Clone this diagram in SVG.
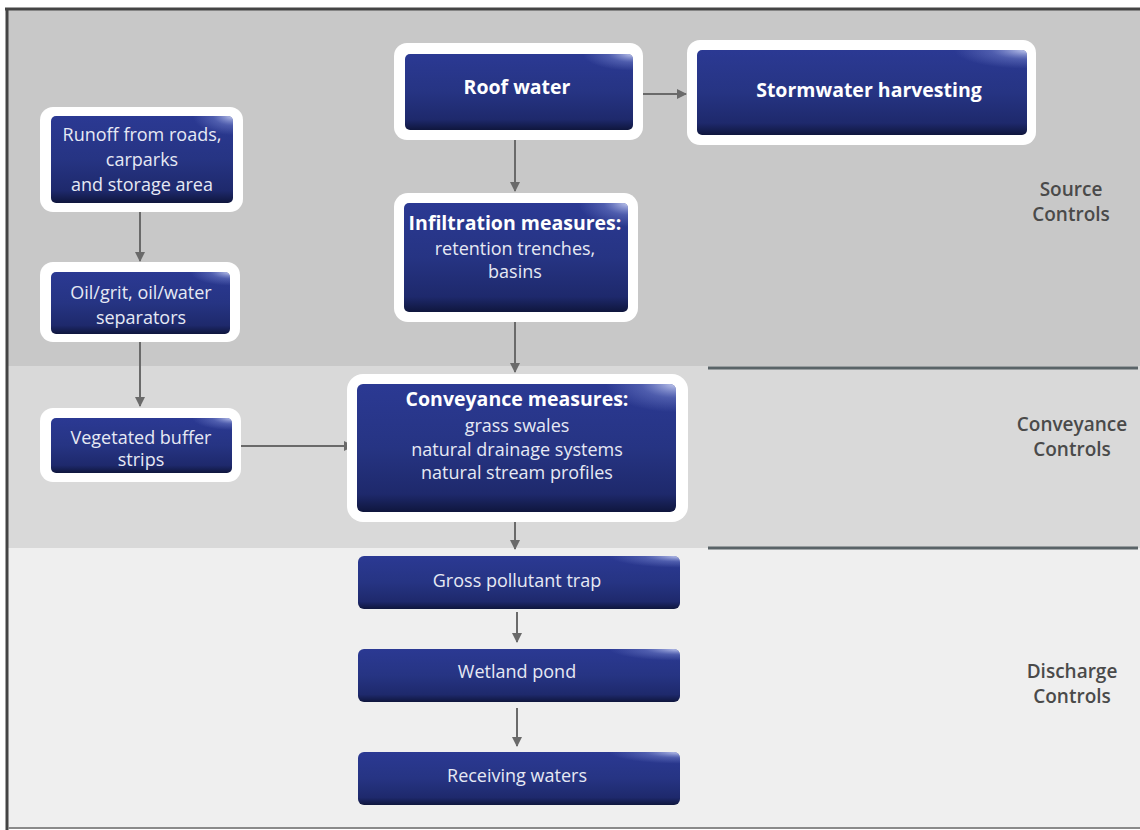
<svg xmlns="http://www.w3.org/2000/svg" width="1140" height="830" viewBox="0 0 1140 830">
<defs>
<linearGradient id="blue" x1="0" y1="0" x2="0" y2="1">
<stop offset="0" stop-color="#2b3993"/>
<stop offset="0.5" stop-color="#263483"/>
<stop offset="0.86" stop-color="#1e296c"/>
<stop offset="1" stop-color="#0f163d"/>
</linearGradient>
<radialGradient id="shine" cx="1" cy="0" r="0.22">
<stop offset="0" stop-color="#dfe5ff" stop-opacity="0.85"/>
<stop offset="0.5" stop-color="#8f9ee0" stop-opacity="0.35"/>
<stop offset="1" stop-color="#8f9ee0" stop-opacity="0"/>
</radialGradient>
<marker id="ah" viewBox="0 0 10 10" refX="9" refY="5" markerWidth="10" markerHeight="10" markerUnits="userSpaceOnUse" orient="auto">
<path d="M0,0 L10,5 L0,10 z" fill="#6a6a6a"/>
</marker>
</defs>
<style>
.frame{fill:#ffffff}
.box{fill:url(#blue)}
.shine{fill:url(#shine)}
.t{font-family:"Open Sans","Noto Sans",sans-serif;font-size:18px;fill:#e6e9f4;text-anchor:middle}
.b{font-weight:bold;font-size:19.5px;fill:#ffffff}
.lab{font-family:"Open Sans","Noto Sans",sans-serif;font-size:19px;fill:#4a4a4a;text-anchor:middle;font-weight:600}
.conn{stroke:#6a6a6a;stroke-width:2;fill:none;marker-end:url(#ah)}
.sep{stroke:#5a6468;stroke-width:3}
</style>
<!-- bands -->
<rect x="0" y="0" width="1140" height="830" fill="#ffffff"/>
<rect x="8" y="10" width="1132" height="356" fill="#c8c8c8"/>
<rect x="8" y="366" width="1132" height="182" fill="#d9d9d9"/>
<rect x="8" y="548" width="1132" height="280" fill="#efefef"/>
<line x1="5" y1="9" x2="1140" y2="9" stroke="#444444" stroke-width="3"/>
<line x1="7" y1="8" x2="7" y2="830" stroke="#444444" stroke-width="3"/>
<line x1="8" y1="828" x2="1140" y2="828" stroke="#8a8a8a" stroke-width="2"/>
<line class="sep" x1="708" y1="368" x2="1138" y2="368"/>
<line class="sep" x1="708" y1="548" x2="1138" y2="548"/>
<g id="labels">
<text class="lab" x="1071" y="196">Source</text>
<text class="lab" x="1071" y="221">Controls</text>
<text class="lab" x="1072" y="431">Conveyance</text>
<text class="lab" x="1072" y="456">Controls</text>
<text class="lab" x="1072" y="678">Discharge</text>
<text class="lab" x="1072" y="703">Controls</text>
</g>
<g id="connectors">
<line class="conn" x1="140" y1="212" x2="140" y2="261"/>
<line class="conn" x1="140" y1="342" x2="140" y2="406"/>
<line class="conn" x1="241" y1="446" x2="353" y2="446"/>
<line class="conn" x1="643" y1="94" x2="686" y2="94"/>
<line class="conn" x1="515" y1="140" x2="515" y2="191"/>
<line class="conn" x1="515" y1="322" x2="515" y2="372"/>
<line class="conn" x1="515" y1="522" x2="515" y2="549"/>
<line class="conn" x1="517" y1="612" x2="517" y2="642"/>
<line class="conn" x1="517" y1="708" x2="517" y2="746"/>
</g>
<g id="runoff">
<rect class="frame" x="40" y="107" width="203" height="105" rx="13"/>
<rect class="box" x="51" y="116" width="182" height="87" rx="5"/>
<rect class="shine" x="51" y="116" width="182" height="87" rx="5"/>
<text class="t" x="142" y="141">Runoff from roads,</text>
<text class="t" x="142" y="166">carparks</text>
<text class="t" x="142" y="191">and storage area</text>
</g>
<g id="oilgrit">
<rect class="frame" x="40" y="262" width="200" height="80" rx="13"/>
<rect class="box" x="51" y="272" width="179" height="62" rx="5"/>
<rect class="shine" x="51" y="272" width="179" height="62" rx="5"/>
<text class="t" x="141" y="299">Oil/grit, oil/water</text>
<text class="t" x="141" y="324">separators</text>
</g>
<g id="vegetated">
<rect class="frame" x="40" y="408" width="201" height="74" rx="13"/>
<rect class="box" x="51" y="418" width="181" height="55" rx="5"/>
<rect class="shine" x="51" y="418" width="181" height="55" rx="5"/>
<text class="t" x="141" y="444">Vegetated buffer</text>
<text class="t" x="141" y="466">strips</text>
</g>
<g id="roof">
<rect class="frame" x="394" y="43" width="249" height="97" rx="13"/>
<rect class="box" x="405" y="54" width="228" height="76" rx="5"/>
<rect class="shine" x="405" y="54" width="228" height="76" rx="5"/>
<text class="t b" x="517" y="94">Roof water</text>
</g>
<g id="harvesting">
<rect class="frame" x="687" y="40" width="349" height="105" rx="13"/>
<rect class="box" x="697" y="50" width="330" height="85" rx="5"/>
<rect class="shine" x="697" y="50" width="330" height="85" rx="5"/>
<text class="t b" x="869" y="97">Stormwater harvesting</text>
</g>
<g id="infiltration">
<rect class="frame" x="394" y="193" width="244" height="129" rx="14"/>
<rect class="box" x="404" y="203" width="224" height="109" rx="5"/>
<rect class="shine" x="404" y="203" width="224" height="109" rx="5"/>
<text class="t b" x="515" y="230">Infiltration measures:</text>
<text class="t" x="515" y="255">retention trenches,</text>
<text class="t" x="515" y="278">basins</text>
</g>
<g id="conveyance">
<rect class="frame" x="347" y="374" width="341" height="148" rx="16"/>
<rect class="box" x="357" y="384" width="319" height="128" rx="6"/>
<rect class="shine" x="357" y="384" width="319" height="128" rx="6"/>
<text class="t b" x="517" y="406">Conveyance measures:</text>
<text class="t" x="517" y="432">grass swales</text>
<text class="t" x="517" y="456">natural drainage systems</text>
<text class="t" x="517" y="479">natural stream profiles</text>
</g>
<g id="gross">
<rect class="box" x="358" y="556" width="322" height="53" rx="6"/>
<rect class="shine" x="358" y="556" width="322" height="53" rx="6"/>
<text class="t" x="517" y="587">Gross pollutant trap</text>
</g>
<g id="wetland">
<rect class="box" x="358" y="649" width="322" height="53" rx="6"/>
<rect class="shine" x="358" y="649" width="322" height="53" rx="6"/>
<text class="t" x="517" y="678">Wetland pond</text>
</g>
<g id="receiving">
<rect class="box" x="358" y="752" width="322" height="53" rx="6"/>
<rect class="shine" x="358" y="752" width="322" height="53" rx="6"/>
<text class="t" x="517" y="782">Receiving waters</text>
</g>
</svg>
